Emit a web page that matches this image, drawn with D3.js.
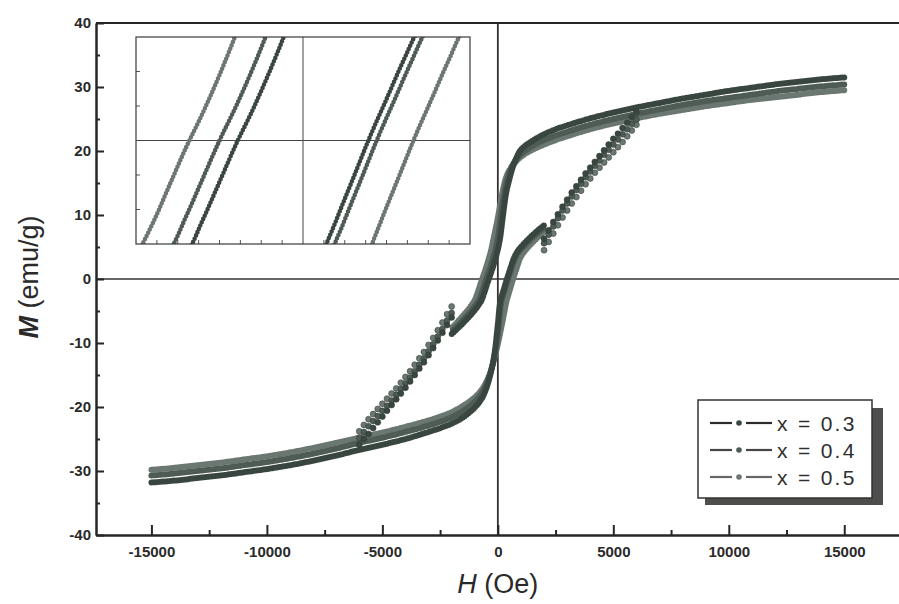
<!DOCTYPE html>
<html><head><meta charset="utf-8">
<script src="https://cdn.jsdelivr.net/npm/d3@7"></script>
<style>
body{margin:0;background:#fff;}
svg{display:block;}
text{font-family:"Liberation Sans",Arial,Helvetica,sans-serif;}
</style>
</head><body>
<svg id="chart" width="899" height="604"></svg>
<script>
// ---------------- data ----------------
const legendLabels = ["x = 0.3", "x = 0.4", "x = 0.5"];
const xTickValues = [-15000, -10000, -5000, 0, 5000, 10000, 15000];
const xMinorTicks = [-12500, -7500, -2500, 2500, 7500, 12500];
const yTickValues = [-40, -30, -20, -10, 0, 10, 20, 30, 40];
const yMinorTicks = [-35, -25, -15, -5, 5, 15, 25, 35];

// descending branch (H from +15000 down), densely measured part  [H (Oe), M (emu/g)]
const desc03Dense = [[15000,31.5],[14000,31.2],[13000,30.8],[12000,30.4],[11000,29.9],[10000,29.4],[9000,28.8],[8000,28.2],[7000,27.5],[6000,26.8],[5000,26.0],[4000,25.1],[3000,24.0],[2500,23.4],[2000,22.6],[1500,21.6],[1000,20.2],[700,18.0],[500,15.6],[350,13.2],[200,9.2],[100,6.4],[0,4.6],[-100,3.2],[-200,2.0],[-300,0.9],[-400,-0.1],[-500,-1.2],[-600,-2.3],[-700,-3.3],[-900,-4.4],[-1100,-5.3],[-1400,-6.5],[-1700,-7.6],[-2000,-8.6]];
const desc04Dense = [[15000,30.4],[14000,30.1],[13000,29.7],[12000,29.3],[11000,28.8],[10000,28.3],[9000,27.8],[8000,27.2],[7000,26.5],[6000,25.8],[5000,25.0],[4000,24.1],[3000,23.0],[2500,22.4],[2000,21.7],[1500,20.8],[1000,19.5],[700,18.2],[500,16.6],[350,14.6],[200,11.6],[100,9.0],[0,6.4],[-100,4.6],[-200,3.3],[-300,2.1],[-400,1.0],[-500,0.0],[-600,-1.1],[-700,-2.2],[-800,-3.2],[-1000,-4.3],[-1300,-5.6],[-1600,-6.8],[-2000,-8.2]];
const desc05Dense = [[15000,29.5],[14000,29.2],[13000,28.8],[12000,28.4],[11000,28.0],[10000,27.5],[9000,27.0],[8000,26.4],[7000,25.8],[6000,25.1],[5000,24.3],[4000,23.4],[3000,22.3],[2500,21.7],[2000,21.0],[1500,20.2],[1000,19.1],[700,18.0],[500,17.0],[350,15.8],[200,13.6],[100,11.6],[0,9.6],[-100,7.8],[-200,6.1],[-300,4.4],[-400,3.1],[-500,1.9],[-600,0.8],[-700,-0.2],[-800,-1.3],[-900,-2.4],[-1000,-3.3],[-1200,-4.4],[-1500,-5.7],[-1800,-6.9],[-2000,-7.7]];

// descending branch, coarse-step part
const desc03Sparse = [[-2000,-6.0],[-2200,-7.2],[-2400,-8.4],[-2600,-9.6],[-2800,-10.8],[-3000,-11.9],[-3200,-13.0],[-3400,-14.0],[-3600,-15.0],[-3800,-16.0],[-4000,-17.0],[-4200,-17.9],[-4400,-18.8],[-4600,-19.7],[-4800,-20.6],[-5000,-21.5],[-5200,-22.4],[-5400,-23.3],[-5600,-24.2],[-5800,-25.0],[-6000,-25.9]];
const desc04Sparse = [[-2000,-5.3],[-2200,-6.5],[-2400,-7.8],[-2600,-9.0],[-2800,-10.2],[-3000,-11.3],[-3200,-12.4],[-3400,-13.4],[-3600,-14.4],[-3800,-15.4],[-4000,-16.3],[-4200,-17.2],[-4400,-18.1],[-4600,-19.0],[-4800,-19.8],[-5000,-20.6],[-5200,-21.4],[-5400,-22.2],[-5600,-23.0],[-5800,-23.9],[-6000,-24.8]];
const desc05Sparse = [[-2000,-4.3],[-2200,-5.5],[-2400,-6.8],[-2600,-8.0],[-2800,-9.2],[-3000,-10.3],[-3200,-11.4],[-3400,-12.4],[-3600,-13.4],[-3800,-14.4],[-4000,-15.3],[-4200,-16.2],[-4400,-17.1],[-4600,-17.9],[-4800,-18.7],[-5000,-19.5],[-5200,-20.3],[-5400,-21.1],[-5600,-21.9],[-5800,-22.8],[-6000,-23.8]];

// ascending branch (H from -15000 up), densely measured part
const asc03Dense = [[-15000,-31.8],[-14000,-31.5],[-13000,-31.1],[-12000,-30.7],[-11000,-30.2],[-10000,-29.7],[-9000,-29.1],[-8000,-28.4],[-7000,-27.6],[-6000,-26.7],[-5000,-25.9],[-4000,-25.0],[-3000,-23.9],[-2500,-23.3],[-2000,-22.6],[-1500,-21.6],[-1000,-20.1],[-700,-18.7],[-500,-17.1],[-300,-14.6],[-150,-11.8],[0,-7.0],[100,-3.6],[200,-2.3],[300,-1.1],[400,0.1],[500,1.2],[600,2.3],[700,3.3],[850,4.3],[1050,5.2],[1400,6.5],[1700,7.5],[2000,8.4]];
const asc04Dense = [[-15000,-30.7],[-14000,-30.4],[-13000,-30.0],[-12000,-29.6],[-11000,-29.1],[-10000,-28.6],[-9000,-28.0],[-8000,-27.3],[-7000,-26.5],[-6000,-25.6],[-5000,-24.8],[-4000,-23.9],[-3000,-22.9],[-2500,-22.3],[-2000,-21.6],[-1500,-20.6],[-1000,-19.2],[-700,-17.9],[-500,-16.5],[-300,-14.4],[-150,-12.0],[0,-8.6],[150,-3.6],[250,-2.3],[350,-1.1],[450,0.1],[550,1.2],[650,2.3],[750,3.3],[900,4.2],[1100,5.0],[1400,6.1],[1700,7.1],[2000,8.0]];
const asc05Dense = [[-15000,-29.8],[-14000,-29.5],[-13000,-29.1],[-12000,-28.7],[-11000,-28.2],[-10000,-27.7],[-9000,-27.1],[-8000,-26.4],[-7000,-25.6],[-6000,-24.8],[-5000,-24.0],[-4000,-23.1],[-3000,-22.1],[-2500,-21.5],[-2000,-20.8],[-1500,-19.8],[-1000,-18.5],[-700,-17.3],[-500,-16.1],[-300,-14.3],[-150,-12.4],[0,-10.2],[150,-7.6],[250,-5.8],[370,-3.6],[470,-2.3],[570,-1.1],[670,0.1],[770,1.2],[870,2.3],[970,3.3],[1150,4.3],[1400,5.3],[1700,6.4],[2000,7.4]];

// ascending branch, coarse-step part
const asc03Sparse = [[2000,6.3],[2200,7.6],[2400,8.9],[2600,10.1],[2800,11.3],[3000,12.4],[3200,13.5],[3400,14.5],[3600,15.5],[3800,16.5],[4000,17.4],[4200,18.3],[4400,19.2],[4600,20.1],[4800,21.0],[5000,21.9],[5200,22.7],[5400,23.6],[5600,24.4],[5800,25.3],[6000,26.1]];
const asc04Sparse = [[2000,5.6],[2200,6.9],[2400,8.2],[2600,9.5],[2800,10.7],[3000,11.8],[3200,12.9],[3400,13.9],[3600,14.9],[3800,15.9],[4000,16.8],[4200,17.7],[4400,18.5],[4600,19.4],[4800,20.2],[5000,21.0],[5200,21.8],[5400,22.6],[5600,23.4],[5800,24.2],[6000,24.9]];
const asc05Sparse = [[2000,4.5],[2200,5.8],[2400,7.1],[2600,8.4],[2800,9.6],[3000,10.7],[3200,11.8],[3400,12.8],[3600,13.8],[3800,14.8],[4000,15.7],[4200,16.6],[4400,17.4],[4600,18.2],[4800,19.0],[5000,19.8],[5200,20.6],[5400,21.4],[5600,22.3],[5800,23.2],[6000,24.1]];

// ---------------- styles ----------------
const curveColors = ["#3a4640", "#4f5c55", "#6b7771"];
const legendLineColors = ["#2b2b2b", "#464646", "#666666"];

const curves = [
  {label: legendLabels[0], color: curveColors[0], dense: [desc03Dense, asc03Dense], sparse: [desc03Sparse, asc03Sparse]},
  {label: legendLabels[1], color: curveColors[1], dense: [desc04Dense, asc04Dense], sparse: [desc04Sparse, asc04Sparse]},
  {label: legendLabels[2], color: curveColors[2], dense: [desc05Dense, asc05Dense], sparse: [desc05Sparse, asc05Sparse]}
];

const svg = d3.select("#chart");
const W = 899, H = 604;
svg.append("rect").attr("width", W).attr("height", H).attr("fill", "#fff");

const x = d3.scaleLinear().domain([-17400, 17500]).range([96, 902]);
const y = d3.scaleLinear().domain([-40, 40]).range([535, 23]);
const axisColor = "#262626";

// zero lines
svg.append("line").attr("x1", x(0)).attr("x2", x(0)).attr("y1", y(40)).attr("y2", y(-40))
  .attr("stroke", "#333").attr("stroke-width", 1.8);
svg.append("line").attr("x1", x.range()[0]).attr("x2", W).attr("y1", y(0)).attr("y2", y(0))
  .attr("stroke", "#333").attr("stroke-width", 1.6);

// curves
const mainLine = d3.line().x(d => x(d[0])).y(d => y(d[1])).curve(d3.curveCatmullRom.alpha(0.5));
const plotG = svg.append("g");
curves.slice().reverse().forEach(c => {
  c.dense.forEach(arr => {
    plotG.append("path").attr("d", mainLine(arr)).attr("fill", "none")
      .attr("stroke", c.color).attr("stroke-width", 6)
      .attr("stroke-linecap", "round").attr("stroke-dasharray", "0 2.3");
    plotG.append("path").attr("d", mainLine(arr)).attr("fill", "none")
      .attr("stroke", c.color).attr("stroke-width", 3.6).attr("opacity", 0.9);
  });
  c.sparse.forEach(arr => {
    plotG.selectAll(null).data(arr).enter().append("circle")
      .attr("cx", d => x(d[0])).attr("cy", d => y(d[1])).attr("r", 3)
      .attr("fill", c.color).attr("stroke", "#2f3833").attr("stroke-width", 0.5);
  });
});

// axes
const fmt = d => String(d);
const xAxis = d3.axisBottom(x).tickValues(xTickValues).tickSize(-10).tickSizeOuter(0).tickPadding(11).tickFormat(fmt);
const xAxisMinor = d3.axisBottom(x).tickValues(xMinorTicks).tickSize(-5).tickSizeOuter(0).tickFormat("");
const yAxis = d3.axisLeft(y).tickValues(yTickValues).tickSize(-8).tickSizeOuter(0).tickPadding(5).tickFormat(fmt);
const yAxisMinor = d3.axisLeft(y).tickValues(yMinorTicks).tickSize(-4).tickSizeOuter(0).tickFormat("");

function styleAxis(g) {
  g.select(".domain").attr("stroke", axisColor).attr("stroke-width", 2);
  g.selectAll(".tick line").attr("stroke", axisColor).attr("stroke-width", 2);
  g.selectAll(".tick text").attr("fill", "#2a2a2a").attr("font-size", 15).attr("font-weight", "bold")
    .attr("font-family", "'Liberation Sans', Arial, sans-serif");
}
svg.append("g").attr("transform", `translate(0,${y(-40)})`).call(xAxisMinor).call(styleAxis);
svg.append("g").attr("transform", `translate(0,${y(-40)})`).call(xAxis).call(styleAxis);
svg.append("g").attr("transform", `translate(${x.range()[0]},0)`).call(yAxisMinor).call(styleAxis);
svg.append("g").attr("transform", `translate(${x.range()[0]},0)`).call(yAxis).call(styleAxis);
// top frame
svg.append("line").attr("x1", x.range()[0]).attr("x2", W).attr("y1", y(40)).attr("y2", y(40))
  .attr("stroke", axisColor).attr("stroke-width", 2);

// axis titles
const yt = svg.append("text").attr("transform", `translate(38,${y(0) - 2}) rotate(-90)`)
  .attr("text-anchor", "middle").attr("font-size", 27).attr("fill", "#2a2a2a");
yt.append("tspan").attr("font-weight", "bold").attr("font-style", "italic").text("M");
yt.append("tspan").text(" (emu/g)");
const xt = svg.append("text").attr("x", x(0)).attr("y", 593)
  .attr("text-anchor", "middle").attr("font-size", 27).attr("fill", "#2a2a2a");
xt.append("tspan").attr("font-style", "italic").text("H");
xt.append("tspan").text(" (Oe)");

// ---------------- inset ----------------
const ix = d3.scaleLinear().domain([-1000, 1000]).range([136, 470]);
const iy = d3.scaleLinear().domain([-3, 3]).range([244, 37]);
const insetXTicks = d3.range(-875, 1000, 125).filter(v => v !== 0);
const insetYTicks = [-2, -1, 1, 2];
const defs = svg.append("defs");
defs.append("clipPath").attr("id", "insetClip").append("rect")
  .attr("x", 136).attr("y", 37).attr("width", 334).attr("height", 207);
const inset = svg.append("g");
inset.append("rect").attr("x", 136).attr("y", 37).attr("width", 334).attr("height", 207).attr("fill", "#fff");
inset.append("line").attr("x1", ix(0)).attr("x2", ix(0)).attr("y1", 37).attr("y2", 244).attr("stroke", "#444").attr("stroke-width", 1);
inset.append("line").attr("x1", 136).attr("x2", 470).attr("y1", iy(0)).attr("y2", iy(0)).attr("stroke", "#444").attr("stroke-width", 1);
const insetLine = d3.line().x(d => ix(d[0])).y(d => iy(d[1])).curve(d3.curveCatmullRom.alpha(0.5));
const insetCurves = inset.append("g").attr("clip-path", "url(#insetClip)");
curves.slice().reverse().forEach(c => {
  c.dense.forEach(arr => {
    insetCurves.append("path").attr("d", insetLine(arr)).attr("fill", "none")
      .attr("stroke", c.color).attr("stroke-width", 4.6)
      .attr("stroke-linecap", "round").attr("stroke-dasharray", "0 3.6");
    insetCurves.append("path").attr("d", insetLine(arr)).attr("fill", "none")
      .attr("stroke", c.color).attr("stroke-width", 1.6).attr("opacity", 0.8);
  });
});
inset.selectAll(".ixt").data(insetXTicks).enter().append("line")
  .attr("x1", d => ix(d)).attr("x2", d => ix(d)).attr("y1", 244).attr("y2", 240)
  .attr("stroke", "#555").attr("stroke-width", 1);
inset.selectAll(".iyt").data(insetYTicks).enter().append("line")
  .attr("x1", 136).attr("x2", 140).attr("y1", d => iy(d)).attr("y2", d => iy(d))
  .attr("stroke", "#555").attr("stroke-width", 1);
inset.append("rect").attr("x", 136).attr("y", 37).attr("width", 334).attr("height", 207)
  .attr("fill", "none").attr("stroke", "#3a3a3a").attr("stroke-width", 1.2);

// ---------------- legend ----------------
const lg = svg.append("g");
lg.append("rect").attr("x", 705).attr("y", 408).attr("width", 178).attr("height", 97).attr("fill", "#4e4e4c");
lg.append("rect").attr("x", 698).attr("y", 400).attr("width", 174).attr("height", 98)
  .attr("fill", "#fff").attr("stroke", "#333").attr("stroke-width", 1.5);
curves.forEach((c, i) => {
  const cy = 423 + i * 27;
  lg.append("line").attr("x1", 710).attr("x2", 732).attr("y1", cy).attr("y2", cy)
    .attr("stroke", legendLineColors[i]).attr("stroke-width", 2.2);
  lg.append("line").attr("x1", 746).attr("x2", 772).attr("y1", cy).attr("y2", cy)
    .attr("stroke", legendLineColors[i]).attr("stroke-width", 2.2);
  lg.append("circle").attr("cx", 739).attr("cy", cy).attr("r", 2.8).attr("fill", c.color);
  lg.append("text").attr("x", 777).attr("y", cy + 7.5).attr("font-size", 21)
    .attr("letter-spacing", 2.3).attr("fill", "#2f2f2f").text(c.label);
});
</script>
</body></html>
